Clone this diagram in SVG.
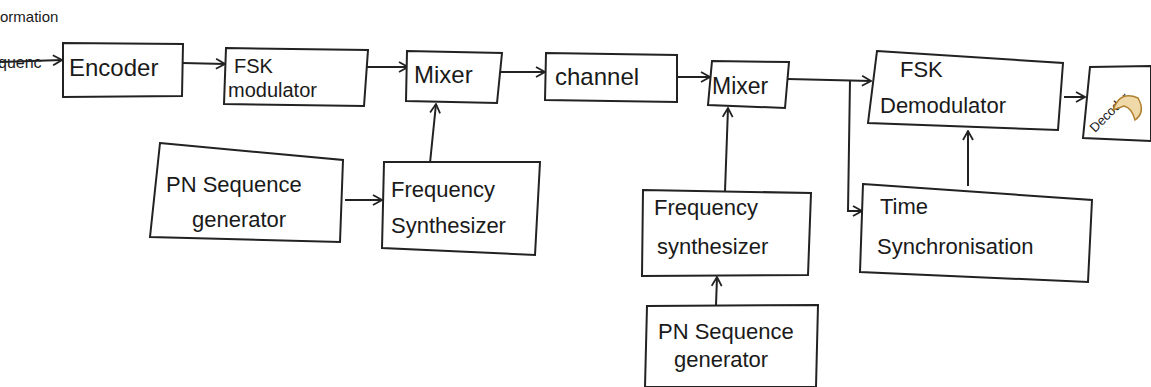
<svg xmlns="http://www.w3.org/2000/svg" width="1151" height="387" viewBox="0 0 1151 387">
<defs>
<marker id="arr" viewBox="0 0 12 12" refX="11" refY="6" markerWidth="12" markerHeight="12" markerUnits="userSpaceOnUse" orient="auto">
<polyline points="2,1 11,6 2,11" fill="none" stroke="#222" stroke-width="1.8"/>
</marker>
</defs>
<style>
.box{fill:#fff;stroke:#222;stroke-width:2}
.ln{fill:none;stroke:#222;stroke-width:2}
.t{font-family:"Liberation Sans",Arial,sans-serif;font-size:22px;fill:#1a1a1a}
.s{font-size:20px}
</style>
<rect width="1151" height="387" fill="#fff"/>
<text class="t" x="0" y="22" style="font-size:15px">ormation</text>
<text class="t" x="-2" y="68" style="font-size:16px">quenc</text>
<g id="connectors">
<line class="ln" x1="0" y1="62" x2="62" y2="60" marker-end="url(#arr)"/>
<line class="ln" x1="183" y1="63" x2="225" y2="64" marker-end="url(#arr)"/>
<line class="ln" x1="365" y1="67" x2="408" y2="67" marker-end="url(#arr)"/>
<line class="ln" x1="497" y1="72" x2="545" y2="72" marker-end="url(#arr)"/>
<line class="ln" x1="677" y1="77" x2="710" y2="77" marker-end="url(#arr)"/>
<line class="ln" x1="788" y1="79" x2="871" y2="81" marker-end="url(#arr)"/>
<polyline class="ln" points="850,80 848,211 862,211" marker-end="url(#arr)"/>
<line class="ln" x1="1064" y1="97" x2="1085" y2="97" marker-end="url(#arr)"/>
<line class="ln" x1="968" y1="186" x2="968" y2="131" marker-end="url(#arr)"/>
<line class="ln" x1="430" y1="163" x2="436" y2="104" marker-end="url(#arr)"/>
<line class="ln" x1="345" y1="200" x2="382" y2="200" marker-end="url(#arr)"/>
<line class="ln" x1="725" y1="191" x2="728" y2="108" marker-end="url(#arr)"/>
<line class="ln" x1="716" y1="305" x2="717" y2="277" marker-end="url(#arr)"/>
</g>
<g id="encoder">
<polygon class="box" points="63,43 183,44 182,96 63,97"/>
<text class="t" x="69" y="76" style="font-size:24px">Encoder</text>
</g>
<g id="fsk-mod">
<polygon class="box" points="226,48 368,50 364,106 224,104"/>
<text class="t s" x="234" y="73">FSK</text>
<text class="t s" x="228" y="97">modulator</text>
</g>
<g id="mixer1">
<polygon class="box" points="407,51 502,53 497,103 406,101"/>
<text class="t" x="414" y="83" style="font-size:24px">Mixer</text>
</g>
<g id="channel">
<polygon class="box" points="546,53 677,55 677,102 545,100"/>
<text class="t" x="555" y="85" style="font-size:24px">channel</text>
</g>
<g id="mixer2">
<polygon class="box" points="712,61 789,62 785,108 708,105"/>
<text class="t" x="712" y="94" style="font-size:23px">Mixer</text>
</g>
<g id="fsk-demod">
<polygon class="box" points="877,51 1063,63 1058,130 868,123"/>
<text class="t" x="900" y="77">FSK</text>
<text class="t" x="880" y="113">Demodulator</text>
</g>
<g id="decoder">
<polygon class="box" points="1090,67 1151,66 1151,141 1083,138"/>
<text class="t" x="1095" y="133" transform="rotate(-45 1095 133)" style="font-size:13px">Decoder</text>
<path d="M1113,110 Q1120,90 1138,98 Q1146,112 1135,120 Q1132,108 1124,106 Z" fill="#f0d9a8" stroke="#b08030" stroke-width="1.5"/>
</g>
<g id="time-sync">
<polygon class="box" points="863,184 1092,200 1088,282 860,272"/>
<text class="t" x="880" y="214">Time</text>
<text class="t" x="877" y="254">Synchronisation</text>
</g>
<g id="pn1">
<polygon class="box" points="160,143 343,160 340,242 150,237"/>
<text class="t" x="166" y="192">PN Sequence</text>
<text class="t" x="192" y="227">generator</text>
</g>
<g id="fs1">
<polygon class="box" points="384,162 540,162 535,255 382,248"/>
<text class="t" x="391" y="197">Frequency</text>
<text class="t" x="391" y="233">Synthesizer</text>
</g>
<g id="fs2">
<polygon class="box" points="643,190 811,193 808,275 642,276"/>
<text class="t" x="654" y="215">Frequency</text>
<text class="t" x="657" y="254">synthesizer</text>
</g>
<g id="pn2">
<polygon class="box" points="647,306 818,305 816,387 645,387"/>
<text class="t" x="658" y="339">PN Sequence</text>
<text class="t" x="674" y="367">generator</text>
</g>
</svg>
